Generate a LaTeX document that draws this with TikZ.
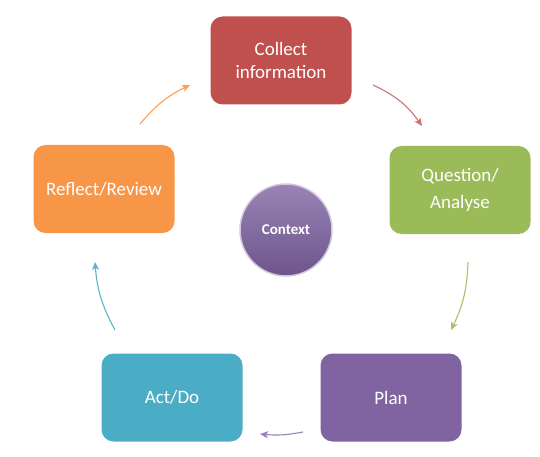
\documentclass[tikz,border=0pt]{standalone}
\usepackage{fontspec}
\setmainfont{Carlito}
\usetikzlibrary{arrows.meta}
\definecolor{cred}{HTML}{C0504D}
\definecolor{cgreen}{HTML}{9BBB59}
\definecolor{cpurple}{HTML}{8064A2}
\definecolor{cteal}{HTML}{4BACC6}
\definecolor{corange}{HTML}{F79646}
\tikzset{
  stage/.style={rounded corners=12pt, minimum width=141pt, minimum height=88pt, inner sep=2pt,
    text=white, font=\fontsize{19}{23}\selectfont, align=center},
  conn/.style={line width=1.1pt, -{Stealth[length=8pt,width=7pt,inset=2pt]}},
}
\begin{document}
\begin{tikzpicture}[x=1pt,y=-1pt]
\useasboundingbox (0,0) rectangle (540,457);
\node[stage, fill=cred] (collect) at (281,60.5) {Collect\\information};
\node[stage, fill=cgreen] (question) at (460,190) {Question/\\[4pt]Analyse};
\node[stage, fill=cpurple] (plan) at (391,397.5) {Plan};
\node[stage, fill=cteal] (act) at (172,397.5) {Act/Do};
\node[stage, fill=corange] (reflect) at (104,189) {Reflect/Review};
\node[circle, minimum size=92pt, inner sep=0pt, top color=cpurple!80, bottom color=cpurple!85!black,
  draw=cpurple!35, line width=1.5pt, text=white, font=\fontsize{15}{17}\selectfont\bfseries] (context) at (286,230) {Context};
\coordinate (r1) at (373,85); \coordinate (r2) at (422,126);
\coordinate (g1) at (468,262); \coordinate (g2) at (451,330);
\coordinate (p1) at (303,432); \coordinate (p2) at (260,434);
\coordinate (t1) at (115,330); \coordinate (t2) at (95,262);
\coordinate (o1) at (140,124); \coordinate (o2) at (190,85);
\draw[conn, draw=cred!80] (r1) to[bend left=15] (r2);
\draw[conn, draw=cgreen!90] (g1) to[bend left=12] (g2);
\draw[conn, draw=cpurple!80] (p1) to[bend left=8] (p2);
\draw[conn, draw=cteal!90] (t1) to[bend left=12] (t2);
\draw[conn, draw=corange!90] (o1) to[bend left=12] (o2);
\end{tikzpicture}
\end{document}
